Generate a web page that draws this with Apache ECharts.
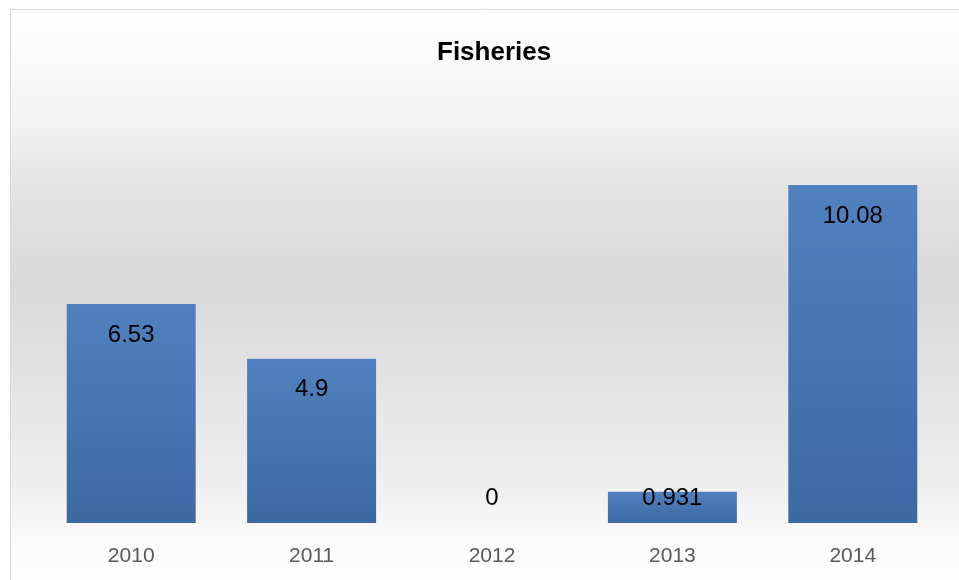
<!DOCTYPE html>
<html>
<head>
<meta charset="utf-8">
<script src="https://cdn.jsdelivr.net/npm/echarts@6/dist/echarts.min.js"></script>
<style>
  html, body { margin: 0; padding: 0; background: #fff; }
  #chart { width: 959px; height: 580px; }
</style>
</head>
<body>
<div id="chart"></div>
<script>
var years = ['2010', '2011', '2012', '2013', '2014'];
var values = [6.53, 4.9, 0, 0.931, 10.08];
var labelTexts = ['6.53', '4.9', '0', '0.931', '10.08'];

var barData = values.map(function (v, i) {
    var small = v < 1;
    return {
        value: v,
        label: {
            position: small ? 'insideBottom' : 'insideTop',
            distance: small ? 13 : 19,
            formatter: labelTexts[i]
        }
    };
});

var chart = echarts.init(document.getElementById('chart'));

chart.setOption({
    animation: false,
    graphic: [{
        type: 'rect',
        z: -10,
        silent: true,
        shape: { x: 10.5, y: 9.5, width: 960, height: 580 },
        style: {
            stroke: '#d9d9d9',
            lineWidth: 1,
            fill: new echarts.graphic.LinearGradient(0, 0, 0, 1, [
                { offset: 0, color: '#ffffff' },
                { offset: 0.19, color: '#f4f4f4' },
                { offset: 0.28, color: '#e6e6e6' },
                { offset: 0.47, color: '#d9d9d9' },
                { offset: 0.81, color: '#eeeeee' },
                { offset: 0.91, color: '#fafafa' },
                { offset: 1, color: '#ffffff' }
            ])
        }
    }],
    title: {
        text: 'Fisheries',
        left: 432,
        top: 35,
        textStyle: {
            fontFamily: 'Liberation Sans',
            fontSize: 26,
            fontWeight: 'bold',
            color: '#000'
        }
    },
    grid: { left: 41, right: 16, top: 120.5, bottom: 57 },
    xAxis: {
        type: 'category',
        data: years,
        axisLine: { show: false },
        axisTick: { show: false },
        axisLabel: {
            margin: 23,
            fontFamily: 'Liberation Sans',
            fontSize: 21,
            color: '#595959'
        }
    },
    yAxis: {
        type: 'value',
        min: 0,
        max: 12,
        interval: 2,
        show: false,
        splitLine: { show: false }
    },
    series: [{
        type: 'bar',
        data: barData,
        barWidth: '71.5%',
        itemStyle: {
            color: new echarts.graphic.LinearGradient(0, 0, 0, 1, [
                { offset: 0, color: '#5081be' },
                { offset: 1, color: '#3d69a3' }
            ])
        },
        label: {
            show: true,
            fontFamily: 'Liberation Sans',
            fontSize: 24,
            color: '#000'
        }
    }]
});
</script>
</body>
</html>
